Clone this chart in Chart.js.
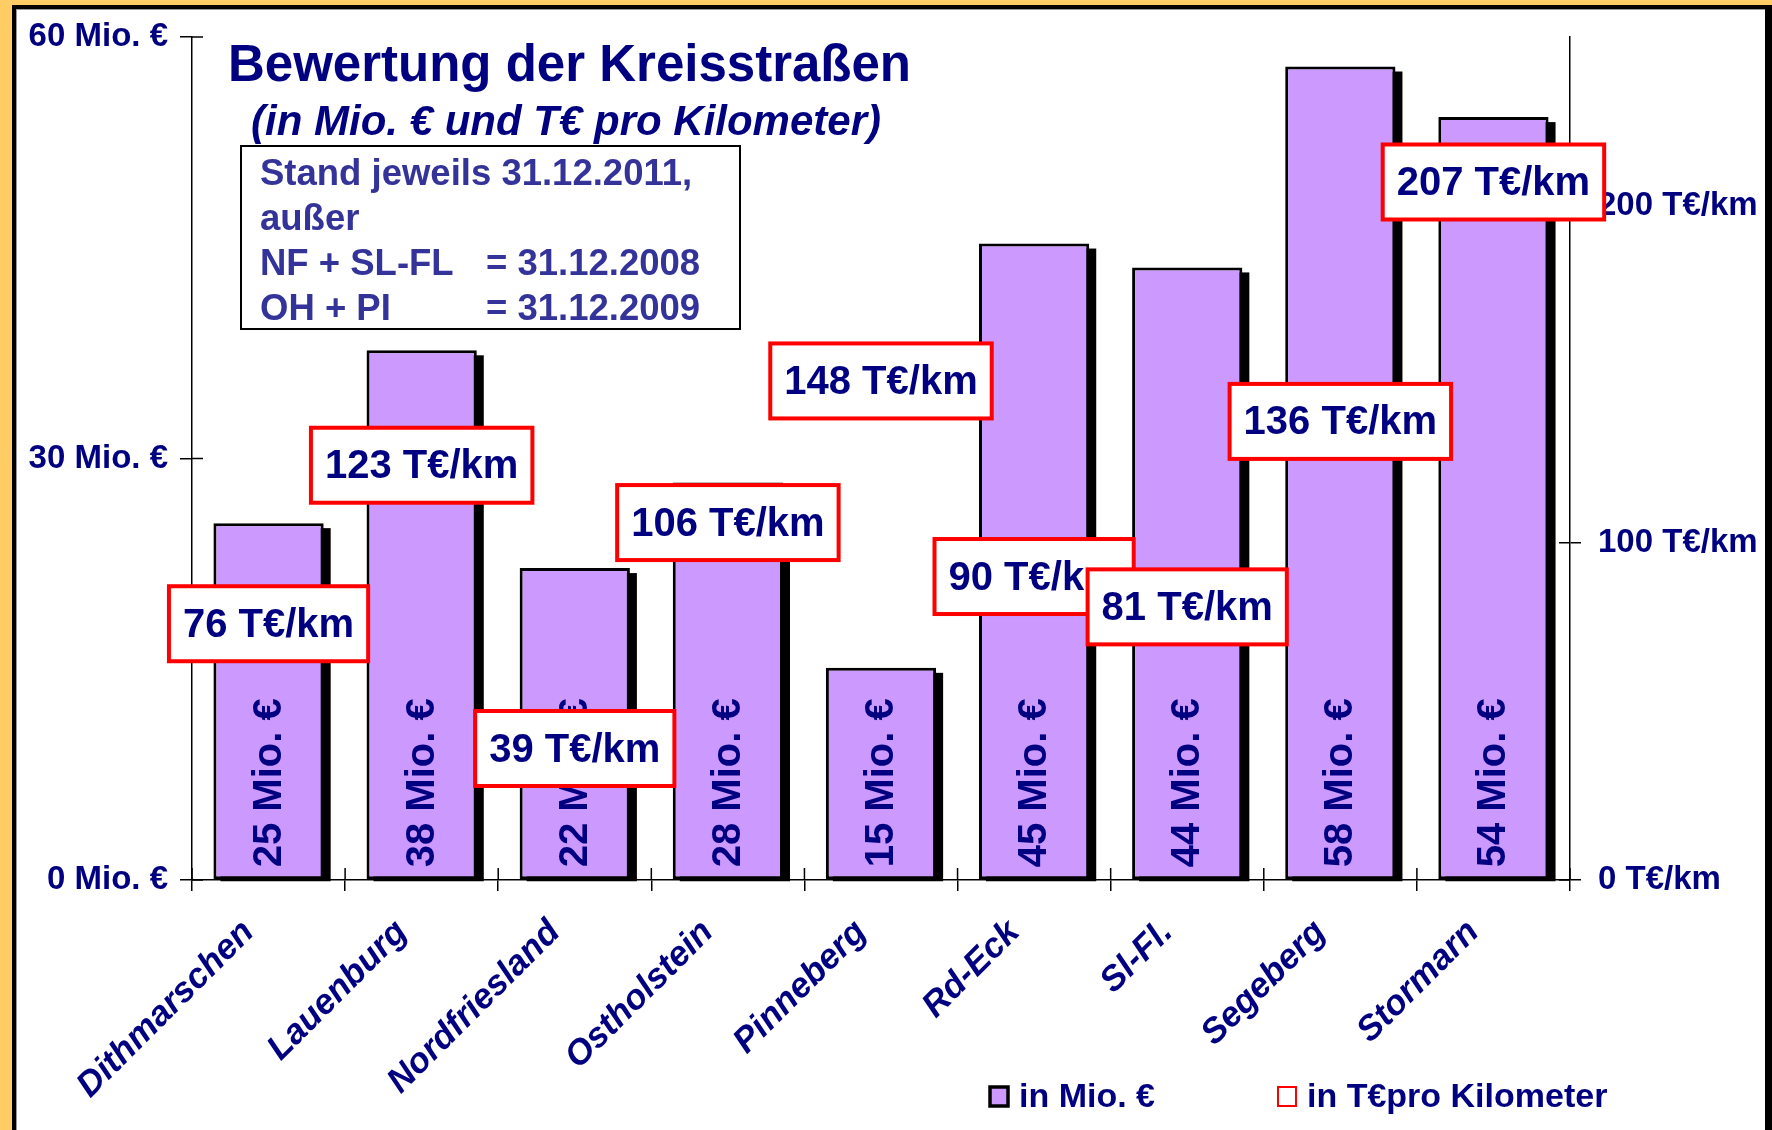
<!DOCTYPE html>
<html>
<head>
<meta charset="utf-8">
<script src="https://cdn.jsdelivr.net/npm/chart.js@4.4.1/dist/chart.umd.min.js"></script>
<style>
html,body{margin:0;padding:0;background:#FFCC66;}
canvas{display:block;}
</style>
</head>
<body>
<canvas id="c" width="1772" height="1130"></canvas>
<script>
// data
const categories = ['Dithmarschen','Lauenburg','Nordfriesland','Ostholstein','Pinneberg','Rd-Eck','Sl-Fl.','Segeberg','Stormarn'];
const mioEuro = [25.4, 37.7, 22.2, 28.3, 15.1, 45.3, 43.6, 57.9, 54.3];
const teuroPerKm = [76, 123, 39, 106, 148, 90, 81, 136, 207];
const leftTicks = [0, 30, 60];
const rightTicks = [0, 100, 200];
const leftMax = 60;
const rightMax = 250;

const titleText = 'Bewertung der Kreisstraßen';
const subtitleText = '(in Mio. € und T€ pro Kilometer)';
const noteLines = [
  ['Stand jeweils 31.12.2011,', ''],
  ['außer', ''],
  ['NF + SL-FL', '= 31.12.2008'],
  ['OH + PI', '= 31.12.2009']
];
const legendLabels = ['in Mio. €', 'in T€pro Kilometer'];

const NAVY = '#000080';
const NOTE_BLUE = '#333399';
const PURPLE = '#CC99FF';
const FONT = '"Liberation Sans", Arial, sans-serif';

// orange background + framed white panel
const framePlugin = {
  id: 'frame',
  beforeDraw(chart){
    const {ctx, width, height} = chart;
    ctx.save();
    ctx.fillStyle = '#FFCC66';
    ctx.fillRect(0, 0, width, height);
    ctx.fillStyle = '#000';
    ctx.fillRect(12, 5, width - 12, height - 5);
    ctx.fillStyle = '#fff';
    ctx.fillRect(16, 9, 1749, height - 9);
    ctx.fillStyle = '#999';
    ctx.fillRect(16, 9, 1749, 1);
    ctx.fillRect(16, 9, 1, height - 9);
    ctx.restore();
  }
};

// black drop shadow behind the bars + ticks crossing the axes
const shadowPlugin = {
  id: 'barShadow',
  beforeDatasetsDraw(chart){
    const {ctx, scales:{x, y, y1}} = chart;
    ctx.save();
    ctx.fillStyle = '#000';
    chart.getDatasetMeta(0).data.forEach(bar => {
      ctx.fillRect(bar.x - bar.width/2 + 7, bar.y + 5, bar.width, bar.base - bar.y - 3);
    });
    ctx.strokeStyle = '#000';
    ctx.lineWidth = 1.5;
    ctx.beginPath();
    y.ticks.forEach(t => {
      const py = y.getPixelForValue(t.value);
      ctx.moveTo(y.right, py); ctx.lineTo(y.right + 11, py);
    });
    y1.ticks.forEach(t => {
      const py = y1.getPixelForValue(t.value);
      ctx.moveTo(y1.left - 11, py); ctx.lineTo(y1.left, py);
    });
    for(let i = 0; i <= categories.length; i++){
      const px = x.getPixelForValue(i - 0.5);
      ctx.moveTo(px, x.top - 12); ctx.lineTo(px, x.top);
    }
    ctx.stroke();
    ctx.restore();
  }
};

// value labels: rotated inside the bars, red boxes for T€/km
const labelPlugin = {
  id: 'valueLabels',
  afterDatasetsDraw(chart){
    const ctx = chart.ctx;
    ctx.save();
    ctx.font = `bold 40px ${FONT}`;
    ctx.fillStyle = NAVY;
    chart.getDatasetMeta(0).data.forEach((bar, i) => {
      ctx.save();
      ctx.translate(bar.x - 1, bar.base - 12);
      ctx.rotate(-Math.PI/2);
      ctx.textAlign = 'left';
      ctx.textBaseline = 'middle';
      ctx.fillText(Math.round(mioEuro[i]) + ' Mio. €', 0, 2);
      ctx.restore();
    });
    chart.getDatasetMeta(1).data.forEach((pt, i) => {
      const txt = teuroPerKm[i] + ' T€/km';
      const w = ctx.measureText(txt).width + 28;
      const h = 75;
      ctx.fillStyle = '#fff';
      ctx.fillRect(pt.x - w/2, pt.y - h/2, w, h);
      ctx.strokeStyle = '#FF0000';
      ctx.lineWidth = 4;
      ctx.strokeRect(pt.x - w/2, pt.y - h/2, w, h);
      ctx.fillStyle = NAVY;
      ctx.textAlign = 'center';
      ctx.textBaseline = 'middle';
      ctx.fillText(txt, pt.x, pt.y + 2);
    });
    ctx.restore();
  }
};

// title, note box and legend
const textPlugin = {
  id: 'texts',
  afterDraw(chart){
    const ctx = chart.ctx;
    ctx.save();
    ctx.textBaseline = 'alphabetic';
    ctx.textAlign = 'left';
    ctx.fillStyle = NAVY;
    ctx.font = `bold 51px ${FONT}`;
    ctx.fillText(titleText, 228, 81);
    ctx.font = `italic bold 42px ${FONT}`;
    ctx.fillText(subtitleText, 251, 135);

    ctx.fillStyle = '#fff';
    ctx.fillRect(241, 146, 499, 183);
    ctx.strokeStyle = '#000';
    ctx.lineWidth = 2;
    ctx.strokeRect(241, 146, 499, 183);
    ctx.fillStyle = NOTE_BLUE;
    ctx.font = `bold 36.5px ${FONT}`;
    noteLines.forEach((ln, i) => {
      const by = 185 + i * 45;
      ctx.fillText(ln[0], 260, by);
      if(ln[1]) ctx.fillText(ln[1], 486, by);
    });

    // legend
    const ds = chart.data.datasets;
    const lx = [990, 1278];
    ctx.font = `bold 34px ${FONT}`;
    ds.forEach((d, i) => {
      ctx.fillStyle = i === 0 ? PURPLE : '#fff';
      ctx.fillRect(lx[i], 1087, 18, 19);
      ctx.strokeStyle = i === 0 ? '#000' : '#FF0000';
      ctx.lineWidth = i === 0 ? 3.5 : 2;
      ctx.strokeRect(lx[i], 1087, 18, 19);
      ctx.fillStyle = NAVY;
      ctx.textBaseline = 'middle';
      ctx.fillText(d.label, lx[i] + 29, 1098);
    });
    ctx.restore();
  }
};

const axisFont = {family: FONT, size: 33, weight: 'bold'};

new Chart(document.getElementById('c').getContext('2d'), {
  data: {
    labels: categories,
    datasets: [
      {
        type: 'bar',
        label: legendLabels[0],
        data: mioEuro,
        yAxisID: 'y',
        backgroundColor: PURPLE,
        borderColor: '#000',
        borderWidth: 3,
        borderSkipped: false,
        barPercentage: 0.72,
        categoryPercentage: 1.0,
        order: 2
      },
      {
        type: 'line',
        label: legendLabels[1],
        data: teuroPerKm,
        yAxisID: 'y1',
        showLine: false,
        pointRadius: 0,
        pointHoverRadius: 0,
        borderColor: '#FF0000',
        order: 1
      }
    ]
  },
  options: {
    responsive: false,
    devicePixelRatio: 1,
    animation: false,
    layout: { padding: { top: 37, left: 0, right: 0, bottom: 0 } },
    plugins: { legend: { display: false }, tooltip: { enabled: false }, title: { display: false } },
    scales: {
      x: {
        offset: true,
        afterFit: s => { s.height = 250; },
        grid: { offset: true, drawOnChartArea: false, tickLength: 11, tickColor: '#000', lineWidth: 1.5 },
        border: { color: '#000', width: 1.5 },
        ticks: {
          color: NAVY,
          font: {family: FONT, size: 35, weight: 'bold', style: 'italic'},
          maxRotation: 45, minRotation: 45,
          padding: 21,
          labelOffset: -20,
          autoSkip: false
        }
      },
      y: {
        position: 'left',
        min: 0, max: leftMax,
        afterFit: s => { s.width = 192; },
        afterBuildTicks: s => { s.ticks = leftTicks.map(v => ({value: v})); },
        grid: { drawOnChartArea: false, tickLength: 12, tickColor: '#000', lineWidth: 1.5 },
        border: { color: '#000', width: 1.5 },
        ticks: { color: NAVY, font: axisFont, padding: 12, callback: v => v + ' Mio. €' }
      },
      y1: {
        position: 'right',
        min: 0, max: rightMax,
        afterFit: s => { s.width = 202; },
        afterBuildTicks: s => { s.ticks = rightTicks.map(v => ({value: v})); },
        grid: { drawOnChartArea: false, tickLength: 11, tickColor: '#000', lineWidth: 1.5 },
        border: { color: '#000', width: 1.5 },
        ticks: { color: NAVY, font: axisFont, padding: 17, callback: v => v + ' T€/km' }
      }
    }
  },
  plugins: [framePlugin, shadowPlugin, labelPlugin, textPlugin]
});
</script>
</body>
</html>
